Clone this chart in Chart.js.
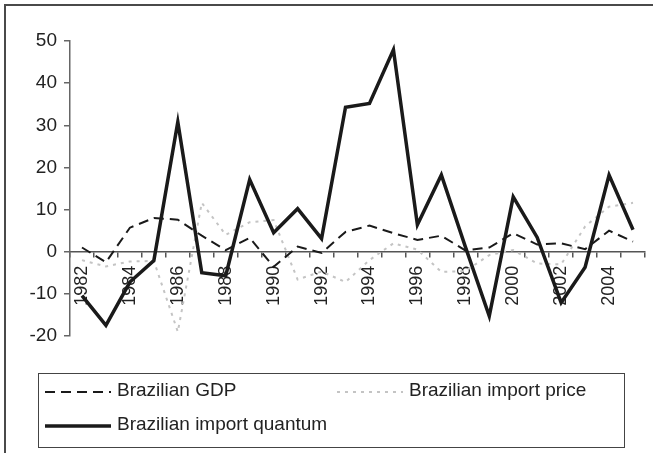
<!DOCTYPE html>
<html>
<head>
<meta charset="utf-8">
<script src="https://cdn.jsdelivr.net/npm/chart.js@4.4.1/dist/chart.umd.min.js"></script>
<style>
  html, body { margin: 0; padding: 0; background: #fff; }
  #wrap { position: relative; width: 653px; height: 453px; }
</style>
</head>
<body>
<div id="wrap"><canvas id="c"></canvas></div>
<script>
// years on the category axis
const years = ['1982', '1983', '1984', '1985', '1986', '1987', '1988', '1989', '1990', '1991', '1992', '1993',
               '1994', '1995', '1996', '1997', '1998', '1999', '2000', '2001', '2002', '2003', '2004', '2005'];
// growth rates, %
const gdp = [1.0, -2.5, 5.7, 8.0, 7.6, 3.8, 0.4, 3.3, -3.6, 1.2, -0.3, 4.7,
             6.2, 4.4, 2.8, 3.8, 0.3, 1.0, 4.4, 1.7, 2.0, 0.6, 5.0, 2.4];
const importPrice = [-2.0, -3.5, -2.3, -2.2, -19.0, 11.6, 4.0, 7.0, 7.5, -6.6, -4.7, -7.2,
                     -2.0, 2.0, 0.5, -4.8, -4.6, -0.8, 0.4, -2.8, -3.0, 6.0, 10.7, 11.6];
const importQuantum = [-10.4, -17.5, -7.2, -2.1, 30.8, -5.0, -5.7, 17.1, 4.5, 10.2, 3.1, 34.3,
                       35.2, 47.9, 6.4, 18.2, 1.2, -15.3, 13.0, 3.4, -12.1, -3.7, 18.2, 5.2];
// y tick range
const yMin = -20, yMax = 50, yStep = 10;

const FONT = '"Liberation Sans", Arial, sans-serif';

//legend in a box, like the excel one
const boxLegend = {
    id: 'boxLegend',
    afterDraw(chart, args, opts) {
        const ctx = chart.ctx;
        ctx.save();
        ctx.strokeStyle = opts.frameColor;
        ctx.lineWidth = 1;
        ctx.strokeRect(opts.left + 0.5, opts.top + 0.5, opts.width, opts.height);
        ctx.font = opts.fontSize + 'px ' + FONT;
        ctx.fillStyle = opts.color;
        ctx.textBaseline = 'middle';
        ctx.textAlign = 'left';
        opts.items.forEach(it => {
            const ds = chart.data.datasets[it.index];
            ctx.save();
            ctx.strokeStyle = ds.borderColor;
            ctx.lineWidth = ds.borderWidth;
            ctx.setLineDash(ds.borderDash || []);
            ctx.beginPath();
            ctx.moveTo(it.x, it.y);
            ctx.lineTo(it.x + opts.sample, it.y);
            ctx.stroke();
            ctx.restore();
            ctx.fillText(ds.label, it.x + opts.sample + 6, it.y - 1);
        });
        ctx.restore();
    }
};

//outer frame (only top / left visible)
const frame = {
    id: 'frame',
    beforeDraw(chart) {
        const ctx = chart.ctx;
        ctx.save();
        ctx.strokeStyle = '#4a4a4a';
        ctx.lineWidth = 2;
        ctx.beginPath();
        ctx.moveTo(5, chart.height);
        ctx.lineTo(5, 5);
        ctx.lineTo(chart.width, 5);
        ctx.stroke();
        ctx.restore();
    }
};

new Chart(document.getElementById('c'), {
    type: 'line',
    data: {
        labels: years,
        datasets: [
            {
                label: 'Brazilian GDP',
                data: gdp,
                borderColor: '#1a1a1a',
                borderWidth: 2,
                borderDash: [10, 6],
                order: 1
            },
            {
                label: 'Brazilian import price',
                data: importPrice,
                borderColor: '#c4c4c4',
                borderWidth: 2,
                borderDash: [3, 5],
                order: 2
            },
            {
                label: 'Brazilian import quantum',
                data: importQuantum,
                borderColor: '#1a1a1a',
                borderWidth: 3.5,
                order: 0
            }
        ]
    },
    options: {
        responsive: true,
        maintainAspectRatio: false,
        animation: false,
        elements: {
            point: { radius: 0 },
            line: { tension: 0, fill: false, borderJoinStyle: 'miter' }
        },
        layout: {
            padding: { left: 0, top: 41, right: 8, bottom: 117 }
        },
        scales: {
            x: {
                position: { y: 0 },
                offset: true,
                afterFit: function (scale) {
                    //rotated labels must not eat the right side
                    scale.paddingLeft = 0;
                    scale.paddingRight = 0;
                },
                grid: {
                    offset: true,
                    drawOnChartArea: false,
                    drawTicks: true,
                    tickLength: 5,
                    color: '#555',
                    lineWidth: 1.5
                },
                border: { color: '#555', width: 1.5 },
                ticks: {
                    autoSkip: false,
                    minRotation: 90,
                    maxRotation: 90,
                    padding: 9,
                    color: '#222',
                    font: { family: FONT, size: 18 },
                    callback: function (v, i) {
                        return i % 2 === 0 ? years[i] : '';
                    }
                }
            },
            y: {
                min: yMin,
                max: yMax,
                afterFit: function (scale) {
                    scale.width = 70;
                },
                grid: {
                    drawOnChartArea: false,
                    drawTicks: true,
                    tickLength: 6,
                    color: '#666',
                    lineWidth: 1.5
                },
                border: { color: '#666', width: 1.5 },
                ticks: {
                    stepSize: yStep,
                    padding: 7,
                    color: '#222',
                    font: { family: FONT, size: 19 }
                }
            }
        },
        plugins: {
            legend: { display: false },
            tooltip: { enabled: false },
            boxLegend: {
                left: 38, top: 373, width: 586, height: 74,
                frameColor: '#444',
                fontSize: 19,
                color: '#222',
                sample: 66,
                items: [
                    { index: 0, x: 45, y: 392 },
                    { index: 1, x: 337, y: 392 },
                    { index: 2, x: 45, y: 426 }
                ]
            }
        }
    },
    plugins: [frame, boxLegend]
});
</script>
</body>
</html>
